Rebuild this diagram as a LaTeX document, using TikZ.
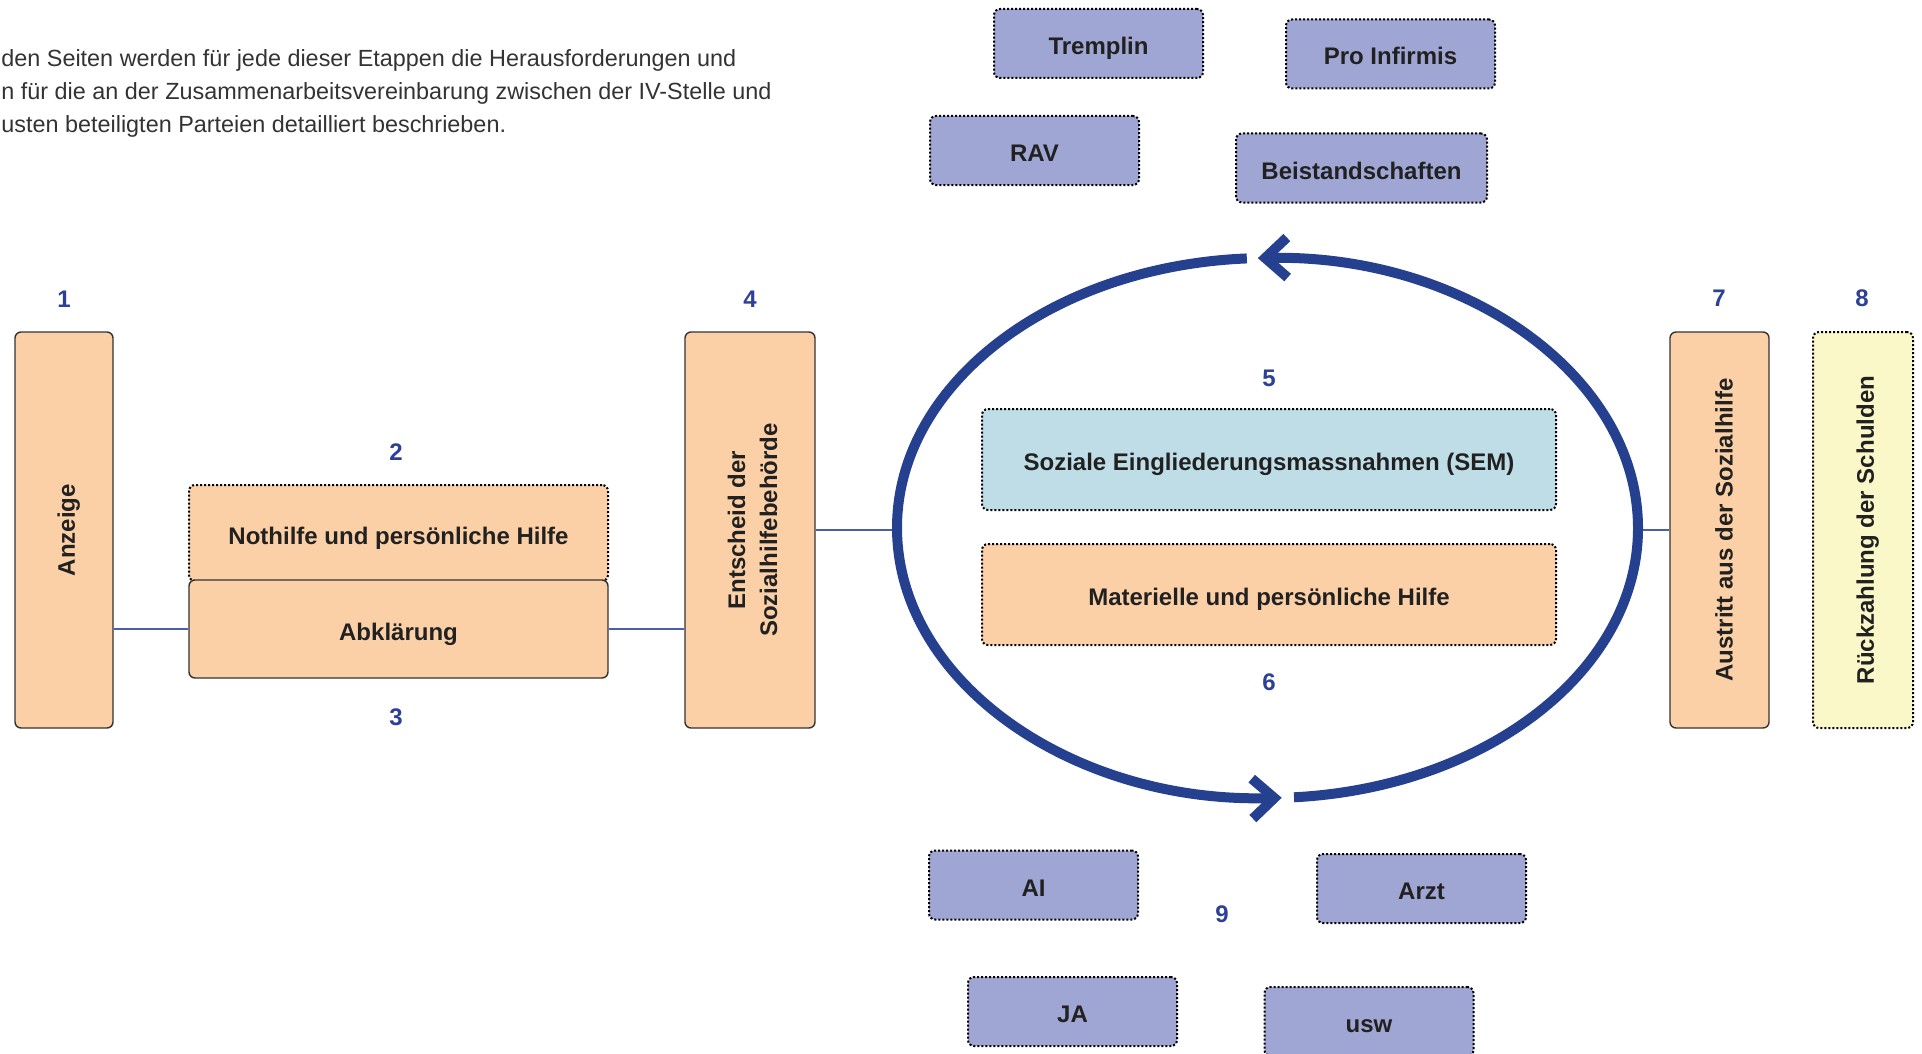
\documentclass[tikz,border=0pt]{standalone}
\usepackage{fontspec}
\setmainfont{Liberation Sans}
\usetikzlibrary{shapes.geometric,arrows.meta}

\definecolor{peach}{HTML}{FBD0A7}
\definecolor{iceblue}{HTML}{BEDDE6}
\definecolor{lavender}{HTML}{A0A6D4}
\definecolor{paleyellow}{HTML}{FAF8C8}
\definecolor{navy}{HTML}{25408F}
\definecolor{stepblue}{HTML}{2B4096}
\definecolor{linkblue}{HTML}{4A5FA8}
\definecolor{textgray}{HTML}{333333}

% upright text in a tall box, set a little right of centre
\newcommand{\vlabel}[1]{\rotatebox{90}{\raisebox{-2.3pt}[\height][\depth]{#1}}}

\tikzset{
  boxfont/.style={font=\fontsize{12}{16}\selectfont\bfseries, text=black!87},
  flat/.style={text height=11pt, text depth=0pt},
  stage/.style={boxfont, draw=textgray, line width=0.7pt, fill=peach, rounded corners=3pt, inner sep=0pt},
  dotbox/.style={boxfont, draw=black, line width=1pt, densely dotted, rounded corners=3pt, inner sep=0pt},
  partner/.style={dotbox, flat, fill=lavender, minimum width=104.5pt, minimum height=34.5pt},
  stepno/.style={font=\fontsize{12}{14}\selectfont\bfseries, text=stepblue},
  intro/.style={font=\fontsize{11.7}{14}\selectfont, text=textgray, inner sep=0pt},
  link/.style={draw=linkblue, line width=0.7pt},
  cyclearrow/.style={draw=navy, line width=5pt, -{Straight Barb[length=11pt,width=20pt]}},
}

\begin{document}
\begin{tikzpicture}[x=0.5pt, y=-0.5pt]
    % page frame
    \useasboundingbox (0,0) rectangle (1922,1054);
    \clip (0,0) rectangle (1922,1054);

    % intro text, cut at the left margin
    \node[intro, anchor=base] (cut) at (286,-4) {,};
    \node[intro, anchor=base west] (intro1) at (1,67) {den Seiten werden für jede dieser Etappen die Herausforderungen und};
    \node[intro, anchor=base west] (intro2) at (1,100) {n für die an der Zusammenarbeitsvereinbarung zwischen der IV-Stelle und};
    \node[intro, anchor=base west] (intro3) at (1,133) {usten beteiligten Parteien detailliert beschrieben.};

    % partners around the cycle
    \node[partner] (tremplin) at (1098.5,43.5) {Tremplin};
    \node[partner] (proinfirmis) at (1390.5,54) {Pro Infirmis};
    \node[partner] (rav) at (1034.5,150.5) {RAV};
    \node[partner, minimum width=125.5pt] (beistand) at (1361.5,168) {Beistandschaften};
    \node[partner] (ai) at (1033.5,885) {AI};
    \node[partner] (arzt) at (1421.5,888.5) {Arzt};
    \node[partner] (ja) at (1072.5,1011.5) {JA};
    \node[partner] (usw) at (1369,1021.5) {usw};

    % stages
    \node[stage, minimum width=49pt, minimum height=198pt] (anzeige) at (64,530) {\vlabel{Anzeige}};
    \node[dotbox, flat, fill=peach, minimum width=209.5pt, minimum height=48pt] (nothilfe) at (398.5,533) {Nothilfe und persönliche Hilfe};
    \node[stage, flat, minimum width=209.5pt, minimum height=49pt] (abklaerung) at (398.5,629) {Abklärung};
    \node[stage, minimum width=65pt, minimum height=198pt] (entscheid) at (750,530)
        {\vlabel{\begin{tabular}{@{}c@{}}Entscheid der\\Sozialhilfebehörde\end{tabular}}};
    \node[dotbox, flat, fill=iceblue, minimum width=287pt, minimum height=50.5pt] (sem) at (1269,459.5) {Soziale Eingliederungsmassnahmen (SEM)};
    \node[dotbox, flat, fill=peach, minimum width=287pt, minimum height=50.5pt] (materiell) at (1269,594.5) {Materielle und persönliche Hilfe};
    \node[stage, minimum width=49.5pt, minimum height=198pt] (austritt) at (1719.5,530) {\vlabel{Austritt aus der Sozialhilfe}};
    \node[dotbox, fill=paleyellow, minimum width=50pt, minimum height=198pt] (rueckzahlung) at (1863,530) {\vlabel{Rückzahlung der Schulden}};

    % step numbers
    \node[stepno] (n1) at (64,299) {1};
    \node[stepno] (n2) at (396,452) {2};
    \node[stepno] (n3) at (396,717) {3};
    \node[stepno] (n4) at (750,299) {4};
    \node[stepno] (n5) at (1269,378) {5};
    \node[stepno] (n6) at (1269,682) {6};
    \node[stepno] (n7) at (1719,298) {7};
    \node[stepno] (n8) at (1862,298) {8};
    \node[stepno] (n9) at (1222,914) {9};

    % cycle
    \node[ellipse, minimum width=370.5pt, minimum height=270pt, inner sep=0pt, outer sep=0pt] (cycle) at (1267.5,528) {};

    % links
    \draw[link] (anzeige.east |- abklaerung.west) -- (abklaerung.west);
    \draw[link] (abklaerung.east) -- (abklaerung.east -| entscheid.west);
    \draw[link] (entscheid.east) -- (entscheid.east -| cycle.west);
    \draw[link] (cycle.east |- austritt.west) -- (austritt.west);

    \draw[cyclearrow] (cycle.center) ++(85.9:370.5 and 270)
        arc[start angle=85.9, end angle=-91.5, x radius=370.5, y radius=270];
    \draw[cyclearrow] (cycle.center) ++(-93.2:370.5 and 270)
        arc[start angle=-93.2, end angle=-272.2, x radius=370.5, y radius=270];
\end{tikzpicture}
\end{document}
